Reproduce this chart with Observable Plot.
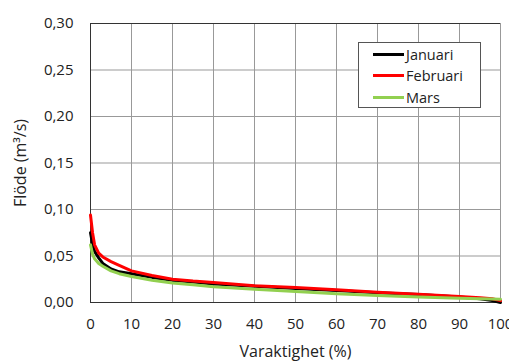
<!DOCTYPE html>
<html>
<head>
<meta charset="utf-8">
<script src="https://cdn.jsdelivr.net/npm/d3@7"></script>
<script src="https://cdn.jsdelivr.net/npm/@observablehq/plot@0.6"></script>
<style>
  html, body { margin: 0; padding: 0; background: #fff; }
  #wrap { position: relative; width: 509px; height: 363px; font-family: "Open Sans", sans-serif; }
  #legend { position: absolute; left: 358px; top: 42px; width: 121px; height: 64px; border: 1px solid #555; background: #fff; box-sizing: content-box; }
  .item { position: absolute; left: 14px; height: 20px; display: flex; align-items: center; font-size: 14.5px; color: #222; }
  .item span.sw { display: inline-block; width: 31px; height: 3px; margin-right: 2px; }
</style>
</head>
<body>
<div id="wrap"></div>
<script>
const varaktighet = [0, 0.5, 1, 2, 3, 5, 7, 10, 15, 20, 25, 30, 40, 50, 60, 70, 80, 90, 95, 98, 100];
const januari  = [0.075, 0.063, 0.055, 0.048, 0.042, 0.036, 0.033, 0.031, 0.027, 0.024, 0.022, 0.020, 0.0175, 0.015, 0.013, 0.0105, 0.0085, 0.006, 0.004, 0.002, 0.000];
const februari = [0.094, 0.075, 0.062, 0.053, 0.049, 0.044, 0.040, 0.034, 0.029, 0.025, 0.023, 0.0215, 0.018, 0.016, 0.0137, 0.011, 0.009, 0.0065, 0.005, 0.004, 0.002];
const mars     = [0.062, 0.052, 0.047, 0.042, 0.039, 0.034, 0.031, 0.028, 0.024, 0.021, 0.019, 0.017, 0.0142, 0.0118, 0.0094, 0.0075, 0.006, 0.0047, 0.004, 0.0038, 0.0035];
const seriesNames = ["Januari", "Februari", "Mars"];
const seriesColors = ["#000000", "#ff0000", "#92d050"];
const xTicks = [0, 10, 20, 30, 40, 50, 60, 70, 80, 90, 100];
const yTicks = [0, 0.05, 0.10, 0.15, 0.20, 0.25, 0.30];

const seriesValues = [januari, februari, mars];
const rows = [];
seriesNames.forEach((name, i) => {
  varaktighet.forEach((x, j) => rows.push({series: name, x, y: seriesValues[i][j]}));
});
const fmt = v => v.toFixed(2).replace(".", ",");

const chart = Plot.plot({
  width: 509,
  height: 363,
  marginLeft: 90,
  marginRight: 9,
  marginTop: 23,
  marginBottom: 61,
  style: {fontFamily: "Open Sans, sans-serif", fontSize: "15px", color: "#222", background: "#fff"},
  x: {domain: [0, 100]},
  y: {domain: [0, 0.30]},
  color: {domain: seriesNames, range: seriesColors},
  marks: [
    Plot.gridX(xTicks, {stroke: "#999", strokeOpacity: 1, strokeWidth: 1}),
    Plot.gridY(yTicks, {stroke: "#999", strokeOpacity: 1, strokeWidth: 1}),
    Plot.ruleY([0.30], {stroke: "#333", strokeWidth: 1}),
    Plot.ruleX([0], {stroke: "#333", strokeWidth: 1}),
    Plot.ruleY([0], {stroke: "#333", strokeWidth: 1}),
    Plot.line(rows, {x: "x", y: "y", z: "series", stroke: "series", strokeWidth: 3, curve: "linear"}),
    Plot.axisX({ticks: xTicks, tickSize: 0, tickPadding: 16, label: null}),
    Plot.axisY({ticks: yTicks, tickSize: 0, tickPadding: 17, tickFormat: fmt, label: null}),
    Plot.axisX({ticks: [], tickSize: 0, fontSize: 16, label: "Varaktighet (%)", labelAnchor: "center", labelOffset: 54, labelArrow: "none"}),
    Plot.axisY({ticks: [], tickSize: 0, fontSize: 16, label: "Flöde (m³/s)", labelAnchor: "center", labelOffset: 76, labelArrow: "none"})
  ]
});
const wrap = document.getElementById("wrap");
wrap.appendChild(chart);

const legend = document.createElement("div");
legend.id = "legend";
seriesNames.forEach((name, i) => {
  const it = document.createElement("div");
  it.className = "item";
  it.style.top = (1 + i * 21.5) + "px";
  const sw = document.createElement("span");
  sw.className = "sw";
  sw.style.background = seriesColors[i];
  it.appendChild(sw);
  it.appendChild(document.createTextNode(name));
  legend.appendChild(it);
});
wrap.appendChild(legend);
</script>
</body>
</html>
